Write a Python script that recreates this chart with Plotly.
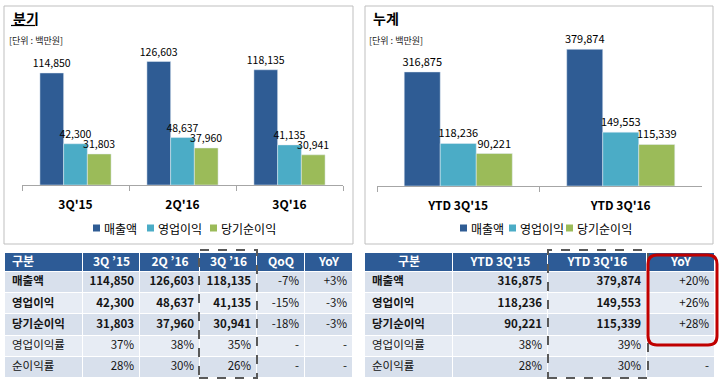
import plotly.graph_objects as go

# ---------------- data ----------------
series_names = ["매출액", "영업이익", "당기순이익"]
q_categories = ["3Q'15", "2Q'16", "3Q'16"]
q_sales = [114850, 126603, 118135]
q_op = [42300, 48637, 41135]
q_net = [31803, 37960, 30941]

ytd_categories = ["YTD 3Q'15", "YTD 3Q'16"]
ytd_sales = [316875, 379874]
ytd_op = [118236, 149553]
ytd_net = [90221, 115339]

row_labels = ["매출액", "영업이익", "당기순이익", "영업이익률", "순이익률"]
q_headers = ["구분", "3Q ’15", "2Q ’16", "3Q ’16", "QoQ", "YoY"]
q_op_margin = ["37%", "38%", "35%"]
q_net_margin = ["28%", "30%", "26%"]
q_qoq = ["-7%", "-15%", "-18%", "-", "-"]
q_yoy = ["+3%", "-3%", "-3%", "-", "-"]

ytd_headers = ["구분", "YTD 3Q'15", "YTD 3Q'16", "YoY"]
ytd_op_margin = ["38%", "39%"]
ytd_net_margin = ["28%", "30%"]
ytd_yoy = ["+20%", "+26%", "+28%", "-", "-"]

colors = ["#2F5C94", "#4BACC6", "#9BBB59"]
FONT = "Malgun Gothic, Noto Sans CJK KR, sans-serif"
W, H = 720, 382


def px(x):
    return x / W


def py(y):
    return 1 - y / H


fig = go.Figure()

# ---------------- bar charts ----------------
for name, vals, c in zip(series_names, [q_sales, q_op, q_net], colors):
    fig.add_trace(go.Bar(x=q_categories, y=vals, name=name, marker_color=c,
                         texttemplate="%{y:,}", textposition="outside", constraintext="none",
                         textfont=dict(size=10.5, color="#000"), cliponaxis=False,
                         showlegend=False, hoverinfo="skip", xaxis="x", yaxis="y"))
for name, vals, c in zip(series_names, [ytd_sales, ytd_op, ytd_net], colors):
    fig.add_trace(go.Bar(x=ytd_categories, y=vals, name=name, marker_color=c,
                         texttemplate="%{y:,}", textposition="outside", constraintext="none",
                         textfont=dict(size=11, color="#000"), cliponaxis=False,
                         showlegend=False, hoverinfo="skip", xaxis="x2", yaxis="y2"))


# ---------------- tables (heatmap cells + text on own axes) ----------------
def fmt(v):
    return f"{v:,}"


def bold(s):
    return f"<b>{s}</b>"


label_col = [bold(r) for r in row_labels[:3]] + row_labels[3:]

q_cols = [label_col]
for i in range(3):
    q_cols.append([bold(fmt(q_sales[i])), bold(fmt(q_op[i])), bold(fmt(q_net[i])),
                   q_op_margin[i], q_net_margin[i]])
q_cols += [q_qoq, q_yoy]

ytd_cols = [label_col]
for i in range(2):
    ytd_cols.append([bold(fmt(ytd_sales[i])), bold(fmt(ytd_op[i])), bold(fmt(ytd_net[i])),
                     ytd_op_margin[i], ytd_net_margin[i]])
ytd_cols.append(ytd_yoy)

HEADER_FILL = "#2D5B96"
ODD_FILL = "#D8E0EC"
EVEN_FILL = "#E7ECF4"
HEADER_H, ROW_H = 19, 21.2
PAD = 6


def add_table(headers, cols, widths, header_align, xa, ya):
    edges = [0]
    for w in widths:
        edges.append(edges[-1] + w)
    nrows = len(cols[0])
    yedges = [0, HEADER_H] + [HEADER_H + ROW_H * (i + 1) for i in range(nrows)]
    z = [[0] * len(widths)] + [[1 + (i % 2)] * len(widths) for i in range(nrows)]
    fig.add_trace(go.Heatmap(
        x=edges, y=yedges, z=z, zmin=0, zmax=2, showscale=False, hoverinfo="skip",
        colorscale=[[0, HEADER_FILL], [0.5, ODD_FILL], [1, EVEN_FILL]],
        xgap=1, ygap=1, xaxis=xa, yaxis=ya))
    hc = HEADER_H / 2
    for j, h in enumerate(headers):
        if header_align[j] == "left":
            x, pos = edges[j] + PAD + 1, "middle right"
        else:
            x, pos = (edges[j] + edges[j + 1]) / 2, "middle center"
        fig.add_trace(go.Scatter(x=[x], y=[hc], mode="text", text=[bold(h)],
                                 textposition=pos, cliponaxis=False, hoverinfo="skip",
                                 showlegend=False,
                                 textfont=dict(size=12, color="white"), xaxis=xa, yaxis=ya))
    centers = [HEADER_H + ROW_H * (i + 0.5) for i in range(nrows)]
    for j, col in enumerate(cols):
        if j == 0:
            xs, pos = [edges[0] + PAD + 1] * nrows, "middle right"
        else:
            xs, pos = [edges[j + 1] - PAD] * nrows, "middle left"
        fig.add_trace(go.Scatter(x=xs, y=centers, mode="text", text=col,
                                 textposition=pos, cliponaxis=False, hoverinfo="skip",
                                 showlegend=False,
                                 textfont=dict(size=11.5, color="#151515"), xaxis=xa, yaxis=ya))
    return edges[-1], yedges[-1]


qw = [78, 57, 60, 57, 48, 48]
qW, qH = add_table(q_headers, q_cols, qw, ["left"] + ["center"] * 5, "x3", "y3")
yw = [88, 95, 99, 68]
yW, yH = add_table(ytd_headers, ytd_cols, yw, ["center"] * 4, "x4", "y4")

# ---------------- shapes ----------------
shapes = [
    dict(type="rect", xref="paper", yref="paper", x0=px(4), x1=px(353), y0=py(244), y1=py(6),
         line=dict(color="#BFBFBF", width=1), layer="below"),
    dict(type="rect", xref="paper", yref="paper", x0=px(365), x1=px(713), y0=py(244), y1=py(6),
         line=dict(color="#BFBFBF", width=1), layer="below"),
    dict(type="line", xref="paper", yref="paper", x0=px(11), x1=px(35), y0=py(25.5), y1=py(25.5),
         line=dict(color="#000", width=1.2)),
    dict(type="rect", xref="paper", yref="paper", x0=px(199), x1=px(257), y0=py(378), y1=py(250),
         line=dict(color="#595959", width=2, dash="dash")),
    dict(type="rect", xref="paper", yref="paper", x0=px(548), x1=px(648), y0=py(378), y1=py(250),
         line=dict(color="#595959", width=2, dash="dash")),
]

# red rounded rectangle
x0, x1, y0, y1, r = 648, 717, 255, 345, 9
X = lambda v: f"{px(v):.5f}"
Y = lambda v: f"{py(v):.5f}"
path = (f"M {X(x0 + r)},{Y(y0)} L {X(x1 - r)},{Y(y0)} Q {X(x1)},{Y(y0)} {X(x1)},{Y(y0 + r)} "
        f"L {X(x1)},{Y(y1 - r)} Q {X(x1)},{Y(y1)} {X(x1 - r)},{Y(y1)} "
        f"L {X(x0 + r)},{Y(y1)} Q {X(x0)},{Y(y1)} {X(x0)},{Y(y1 - r)} "
        f"L {X(x0)},{Y(y0 + r)} Q {X(x0)},{Y(y0)} {X(x0 + r)},{Y(y0)} Z")
shapes.append(dict(type="path", xref="paper", yref="paper", path=path,
                   line=dict(color="#C00000", width=3)))

annotations = [
    dict(text="<b>분기</b>", x=px(11), y=py(18), xref="paper", yref="paper",
         xanchor="left", yanchor="middle", showarrow=False, font=dict(size=14, color="#000")),
    dict(text="<b>누계</b>", x=px(371), y=py(18), xref="paper", yref="paper",
         xanchor="left", yanchor="middle", showarrow=False, font=dict(size=14, color="#000")),
    dict(text="[단위 : 백만원]", x=px(7), y=py(41), xref="paper", yref="paper",
         xanchor="left", yanchor="middle", showarrow=False, font=dict(size=9, color="#222")),
    dict(text="[단위 : 백만원]", x=px(367), y=py(41), xref="paper", yref="paper",
         xanchor="left", yanchor="middle", showarrow=False, font=dict(size=9, color="#222")),
]

# legends (small squares + labels)
legend_left_x = [93, 147, 210]
legend_right_x = [460, 509, 566]
for xs in (legend_left_x, legend_right_x):
    for name, c, sx in zip(series_names, colors, xs):
        shapes.append(dict(type="rect", xref="paper", yref="paper",
                           x0=px(sx), x1=px(sx + 7), y0=py(231.5), y1=py(224.5),
                           fillcolor=c, line=dict(width=0)))
        annotations.append(dict(text=name, x=px(sx + 9), y=py(228), xref="paper", yref="paper",
                                xanchor="left", yanchor="middle", showarrow=False,
                                font=dict(size=12, color="#000")))

axis_common = dict(showline=True, linecolor="#A6A6A6", linewidth=1, ticks="outside",
                   tickson="boundaries", ticklen=5, tickcolor="#A6A6A6",
                   tickfont=dict(size=12, color="#000", weight="bold"),
                   ticklabelstandoff=9, showgrid=False, fixedrange=True)
hidden = dict(visible=False, showgrid=False, zeroline=False, fixedrange=True)

fig.update_layout(
    width=W, height=H, margin=dict(l=0, r=0, t=0, b=0),
    paper_bgcolor="white", plot_bgcolor="white",
    font=dict(family=FONT, color="#000"),
    barmode="group", bargap=0.335, bargroupgap=0, showlegend=False,
    xaxis=dict(domain=[px(22), px(343)], anchor="y", **axis_common),
    yaxis=dict(domain=[py(185), py(50.4)], range=[0, 138000], anchor="x", **hidden),
    xaxis2=dict(domain=[px(377), px(702)], anchor="y2", **axis_common),
    yaxis2=dict(domain=[py(186), py(45.6)], range=[0, 390000], anchor="x2", **hidden),
    xaxis3=dict(domain=[px(5), px(5 + qW)], range=[0, qW], anchor="y3", **hidden),
    yaxis3=dict(domain=[py(253 + qH), py(253)], range=[qH, 0], anchor="x3", **hidden),
    xaxis4=dict(domain=[px(365), px(365 + yW)], range=[0, yW], anchor="y4", **hidden),
    yaxis4=dict(domain=[py(253 + yH), py(253)], range=[yH, 0], anchor="x4", **hidden),
    shapes=shapes, annotations=annotations,
)

fig.write_html("out.html", config={"displayModeBar": False},
               post_script="document.body.style.margin='0';document.body.style.overflow='hidden';")
